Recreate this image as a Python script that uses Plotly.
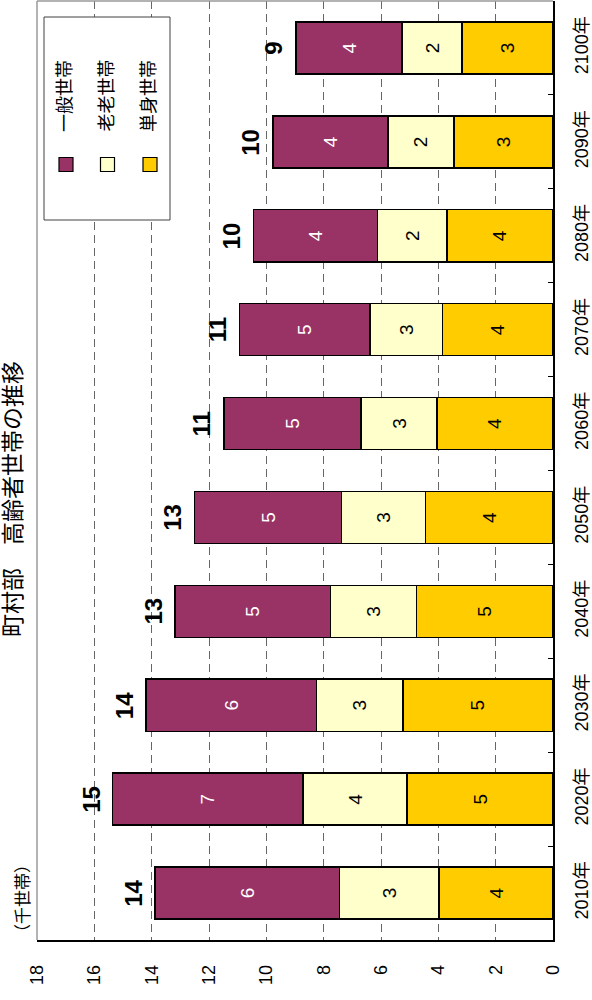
import math
import plotly.graph_objects as go

years = ["2010年", "2020年", "2030年", "2040年", "2050年",
         "2060年", "2070年", "2080年", "2090年", "2100年"]
single = [3.97, 5.09, 5.24, 4.76, 4.45, 4.05, 3.85, 3.70, 3.46, 3.18]      # 単身世帯
elderly_couple = [3.47, 3.63, 3.01, 3.00, 2.92, 2.64, 2.54, 2.42, 2.29, 2.08]  # 老老世帯
general = [6.45, 6.64, 5.95, 5.42, 5.14, 4.79, 4.54, 4.32, 4.02, 3.71]     # 一般世帯
value_ticks = [0, 2, 4, 6, 8, 10, 12, 14, 16, 18]

series = [
    ("単身世帯", single, "#FFCC00", "black"),
    ("老老世帯", elderly_couple, "#FFFFCC", "black"),
    ("一般世帯", general, "#993366", "white"),
]

FONT = "Liberation Sans, Noto Sans CJK JP, sans-serif"


def rnd(v):
    return str(int(math.floor(v + 0.5)))


fig = go.Figure()
for name, vals, color, tcolor in series:
    fig.add_trace(go.Bar(
        y=years, x=vals, orientation="h", name=name,
        marker=dict(color=color, line=dict(color="black", width=1.5)),
        text=[rnd(v) for v in vals], textposition="inside",
        insidetextanchor="middle", textangle=-90, constraintext="none",
        textfont=dict(size=19, color=tcolor, family=FONT),
        showlegend=False, hoverinfo="x+y+name",
    ))

totals = [a + b + c for a, b, c in zip(single, elderly_couple, general)]

W, H = 592, 1000
L, R, T, B = 37, 39, 1, 60
pw, ph = W - L - R, H - T - B


def px(x):
    return (x - L) / pw


def py(y):
    return (H - B - y) / ph


annotations = []
for yr, tot in zip(years, totals):
    annotations.append(dict(
        x=tot, y=yr, xref="x", yref="y", text="<b>%s</b>" % rnd(tot),
        showarrow=False, textangle=-90, xanchor="center", yanchor="middle",
        xshift=-22, font=dict(size=24, color="black", family=FONT)))

# title and unit
annotations.append(dict(
    x=px(13), y=py(499), xref="paper", yref="paper", text="町村部　高齢者世帯の推移",
    showarrow=False, textangle=-90, xanchor="center", yanchor="middle",
    font=dict(size=23, color="black", family=FONT)))
annotations.append(dict(
    x=px(23), y=py(899), xref="paper", yref="paper", text="（千世帯）",
    showarrow=False, textangle=-90, xanchor="center", yanchor="middle",
    font=dict(size=17, color="black", family=FONT)))

shapes = [
    dict(type="line", xref="paper", yref="paper", x0=0, x1=0, y0=0, y1=1,
         line=dict(color="#9A9A9A", width=1.5), layer="above"),
    dict(type="line", xref="paper", yref="paper", x0=0, x1=1, y0=1, y1=1,
         line=dict(color="#9A9A9A", width=1.5), layer="above"),
    # legend box
    dict(type="rect", xref="paper", yref="paper", x0=px(44), x1=px(170),
         y0=py(220), y1=py(17), line=dict(color="#404040", width=1),
         fillcolor="white", layer="above"),
]

legend_items = [("一般世帯", "#993366", 66), ("老老世帯", "#FFFFCC", 107.5),
                ("単身世帯", "#FFCC00", 150)]
for name, color, cx in legend_items:
    shapes.append(dict(type="rect", xref="paper", yref="paper",
                       x0=px(cx - 7), x1=px(cx + 7), y0=py(171.5), y1=py(157.5),
                       line=dict(color="black", width=1.2), fillcolor=color,
                       layer="above"))
    annotations.append(dict(
        x=px(cx - 1), y=py(96), xref="paper", yref="paper", text=name,
        showarrow=False, textangle=-90, xanchor="center", yanchor="middle",
        font=dict(size=18, color="black", family=FONT)))

fig.update_layout(
    width=W, height=H, margin=dict(l=L, r=R, t=T, b=B),
    barmode="stack", bargap=0.446,
    plot_bgcolor="white", paper_bgcolor="white",
    font=dict(family=FONT, color="black"),
    xaxis=dict(range=[18, 0], tickvals=value_ticks, tickangle=-90,
               showgrid=True, gridcolor="#666666", griddash="8px,5px",
               gridwidth=1, showline=True, linecolor="black", linewidth=1.5,
               zeroline=False, ticks="", tickfont=dict(size=18),
               ticklabelstandoff=16, fixedrange=True),
    yaxis=dict(side="right", type="category", showline=True, linecolor="black",
               linewidth=1.5, ticks="inside", tickson="boundaries", ticklen=5,
               tickcolor="black", tickangle=-90, showgrid=False,
               tickfont=dict(size=18), ticklabelstandoff=12, fixedrange=True),
    shapes=shapes, annotations=annotations,
)

fig.write_html("out.html", config={"displayModeBar": False},
               post_script="document.body.style.margin='0px';")
